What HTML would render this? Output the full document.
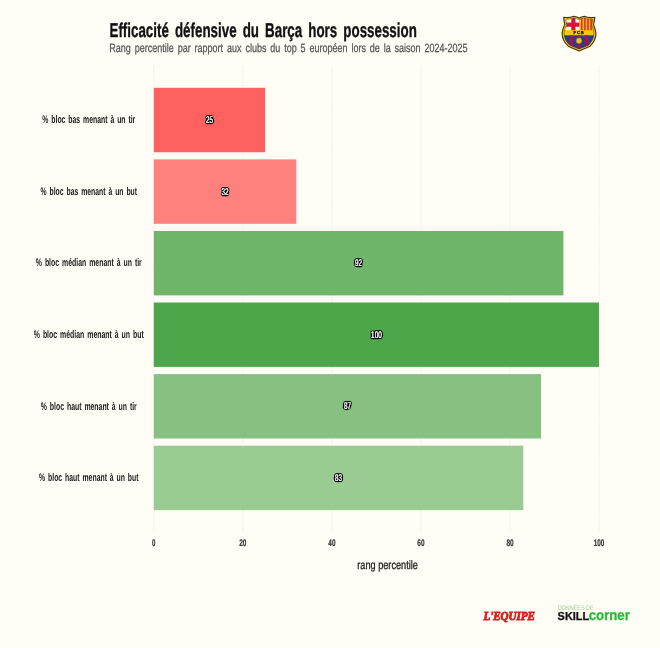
<!DOCTYPE html>
<html lang="fr"><head><meta charset="utf-8"><title>Efficacité défensive du Barça hors possession</title>
<style>
html,body{margin:0;padding:0;background:#fffdf5;}
body{width:660px;height:648px;overflow:hidden;}
svg{display:block;}
text{font-family:"Liberation Sans",sans-serif;text-rendering:geometricPrecision;}
.t{word-spacing:3.6px;font-weight:bold;font-size:20px;fill:#111;stroke:#111;stroke-width:0.35px;}
.s{word-spacing:1.8px;font-size:12px;fill:#555;stroke:#555;stroke-width:0.25px;}
.yl{word-spacing:1.6px;font-size:11px;fill:#222;text-anchor:middle;font-weight:bold;}
.xl{font-size:9.6px;fill:#333;stroke:#333;stroke-width:0.2px;text-anchor:middle;font-weight:bold;}
.ax{font-size:12px;fill:#222;stroke:#222;stroke-width:0.3px;text-anchor:middle;}
.v{font-size:9.6px;font-weight:normal;fill:#fff;text-anchor:middle;filter:url(#ol);}
</style></head><body>
<svg width="660" height="648" viewBox="0 0 660 648">
<rect width="660" height="648" fill="#fffdf5"/>

<defs><filter id="ol" x="-40%" y="-40%" width="180%" height="180%"><feGaussianBlur in="SourceAlpha" stdDeviation="0.9" result="b"/><feComponentTransfer in="b" result="d2"><feFuncA type="linear" slope="9" intercept="-0.25"/></feComponentTransfer><feFlood flood-color="#000"/><feComposite in2="d2" operator="in" result="o"/><feMerge><feMergeNode in="o"/><feMergeNode in="SourceGraphic"/></feMerge></filter></defs>
<line x1="153.8" y1="65.5" x2="153.8" y2="531" stroke="#f0eee6" stroke-width="0.9" stroke-dasharray="3 0.8"/>
<line x1="242.8" y1="65.5" x2="242.8" y2="531" stroke="#f0eee6" stroke-width="0.9" stroke-dasharray="3 0.8"/>
<line x1="331.9" y1="65.5" x2="331.9" y2="531" stroke="#f0eee6" stroke-width="0.9" stroke-dasharray="3 0.8"/>
<line x1="420.9" y1="65.5" x2="420.9" y2="531" stroke="#f0eee6" stroke-width="0.9" stroke-dasharray="3 0.8"/>
<line x1="510.0" y1="65.5" x2="510.0" y2="531" stroke="#f0eee6" stroke-width="0.9" stroke-dasharray="3 0.8"/>
<line x1="599.0" y1="65.5" x2="599.0" y2="531" stroke="#f0eee6" stroke-width="0.9" stroke-dasharray="3 0.8"/>
<rect x="153.8" y="87.8" width="111.3" height="64.4" fill="#ff615e"/>
<rect x="153.8" y="159.4" width="142.5" height="64.4" fill="#ff817e"/>
<rect x="153.8" y="231.0" width="409.6" height="64.4" fill="#6fb66b"/>
<rect x="153.8" y="302.5" width="445.2" height="64.4" fill="#4da64a"/>
<rect x="153.8" y="374.1" width="387.3" height="64.4" fill="#86c181"/>
<rect x="153.8" y="445.7" width="369.5" height="64.4" fill="#99cb93"/>
<text class="v" x="209.5" y="123.0" textLength="7.0" lengthAdjust="spacingAndGlyphs">25</text>
<text class="yl" x="88.8" y="123.2" textLength="93.0" lengthAdjust="spacingAndGlyphs">% bloc bas menant à un tir</text>
<text class="v" x="225.0" y="194.6" textLength="7.0" lengthAdjust="spacingAndGlyphs">32</text>
<text class="yl" x="88.8" y="194.8" textLength="96.5" lengthAdjust="spacingAndGlyphs">% bloc bas menant à un but</text>
<text class="v" x="358.6" y="266.2" textLength="7.0" lengthAdjust="spacingAndGlyphs">92</text>
<text class="yl" x="88.8" y="266.4" textLength="106.0" lengthAdjust="spacingAndGlyphs">% bloc médian menant à un tir</text>
<text class="v" x="376.4" y="337.7" textLength="10.6" lengthAdjust="spacingAndGlyphs">100</text>
<text class="yl" x="88.8" y="337.9" textLength="110.0" lengthAdjust="spacingAndGlyphs">% bloc médian menant à un but</text>
<text class="v" x="347.5" y="409.3" textLength="7.0" lengthAdjust="spacingAndGlyphs">87</text>
<text class="yl" x="88.8" y="409.5" textLength="96.0" lengthAdjust="spacingAndGlyphs">% bloc haut menant à un tir</text>
<text class="v" x="338.6" y="480.9" textLength="7.0" lengthAdjust="spacingAndGlyphs">83</text>
<text class="yl" x="88.8" y="481.1" textLength="99.5" lengthAdjust="spacingAndGlyphs">% bloc haut menant à un but</text>
<text class="xl" x="153.8" y="545.6" textLength="3.4" lengthAdjust="spacingAndGlyphs">0</text>
<text class="xl" x="242.8" y="545.6" textLength="7.2" lengthAdjust="spacingAndGlyphs">20</text>
<text class="xl" x="331.9" y="545.6" textLength="7.2" lengthAdjust="spacingAndGlyphs">40</text>
<text class="xl" x="420.9" y="545.6" textLength="7.2" lengthAdjust="spacingAndGlyphs">60</text>
<text class="xl" x="510.0" y="545.6" textLength="7.2" lengthAdjust="spacingAndGlyphs">80</text>
<text class="xl" x="599.0" y="545.6" textLength="10.6" lengthAdjust="spacingAndGlyphs">100</text>
<text class="ax" x="387.6" y="569" textLength="60.6" lengthAdjust="spacingAndGlyphs">rang percentile</text>
<text class="t" x="109.5" y="36.6" textLength="307.3" lengthAdjust="spacingAndGlyphs">Efficacité défensive du Barça hors possession</text>
<text class="s" x="109.3" y="51.5" textLength="358.3" lengthAdjust="spacingAndGlyphs">Rang percentile par rapport aux clubs du top 5 européen lors de la saison 2024-2025</text>
<g id="crest" transform="translate(556,10) scale(0.07097)">
<defs>
<clipPath id="cin"><path id="cinp" d="M138,128 Q200,135 250,112 Q300,118 328,138 Q356,118 400,112 Q450,135 518,128 Q512,170 502,210 Q525,260 536,322 Q536,420 462,492 Q400,520 326,548 Q250,520 190,492 Q112,420 112,322 Q125,260 152,210 Q140,170 138,128 Z"/></clipPath>
</defs>
<path d="M108,103 Q190,118 250,88 Q300,96 328,114 Q356,96 400,88 Q460,118 548,103 Q540,160 528,205 Q552,260 563,322 Q566,430 480,510 Q400,545 326,578 Q250,545 172,510 Q84,430 86,322 Q98,260 124,205 Q112,160 108,103 Z" fill="#f3c51f" stroke="#4a3410" stroke-width="16" stroke-linejoin="round"/>
<g clip-path="url(#cin)">
<rect x="100" y="100" width="232" height="190" fill="#fbf6ec"/>
<rect x="216" y="100" width="58" height="190" fill="#d8123a"/>
<rect x="100" y="178" width="232" height="58" fill="#d8123a"/>
<rect x="332" y="100" width="220" height="195" fill="#f7b718"/>
<rect x="352" y="100" width="22" height="195" fill="#e0302a"/>
<rect x="396" y="100" width="22" height="195" fill="#e0302a"/>
<rect x="440" y="100" width="22" height="195" fill="#e0302a"/>
<rect x="484" y="100" width="22" height="195" fill="#e0302a"/>
<rect x="80" y="286" width="500" height="70" fill="#f3c51f"/>
<rect x="80" y="357" width="500" height="230" fill="#1f3f93"/>
<rect x="191" y="357" width="53" height="230" fill="#a5124e"/>
<rect x="297" y="357" width="53" height="230" fill="#a5124e"/>
<rect x="403" y="357" width="53" height="230" fill="#a5124e"/>
<circle cx="324" cy="434" r="45" fill="#f0c21c" stroke="#3a3560" stroke-width="10"/>
</g>
<path d="M138,128 Q200,135 250,112 Q300,118 328,138 Q356,118 400,112 Q450,135 518,128 Q512,170 502,210 Q525,260 536,322 Q536,420 462,492 Q400,520 326,548 Q250,520 190,492 Q112,420 112,322 Q125,260 152,210 Q140,170 138,128 Z" fill="none" stroke="#4a3410" stroke-opacity="0.7" stroke-width="10"/>
<text x="326" y="338" text-anchor="middle" style="font-size:60px;font-weight:bold;fill:#2a1d0a;stroke:#2a1d0a;stroke-width:4px;letter-spacing:12px">FCB</text>
</g>

<text x="483.4" y="620.2" textLength="51.6" lengthAdjust="spacingAndGlyphs" style="font-family:'Liberation Serif',serif;font-weight:bold;font-style:italic;font-size:12.2px;fill:#d81f1f;stroke:#d81f1f;stroke-width:0.9px">L'EQUIPE</text>
<text x="557.7" y="609.6" textLength="36" lengthAdjust="spacingAndGlyphs" style="font-size:6.6px;fill:#9fd396">DONNÉES DE</text>
<text x="557.6" y="620.4" textLength="31.6" lengthAdjust="spacingAndGlyphs" style="font-size:11.6px;fill:#111;font-weight:bold;stroke:#111;stroke-width:0.3px">SKILL</text>
<text x="588.7" y="620.4" textLength="41.2" lengthAdjust="spacingAndGlyphs" style="font-size:14.6px;fill:#1fbe2f;font-weight:bold;stroke:#1fbe2f;stroke-width:0.25px">corner</text>
</svg></body></html>
